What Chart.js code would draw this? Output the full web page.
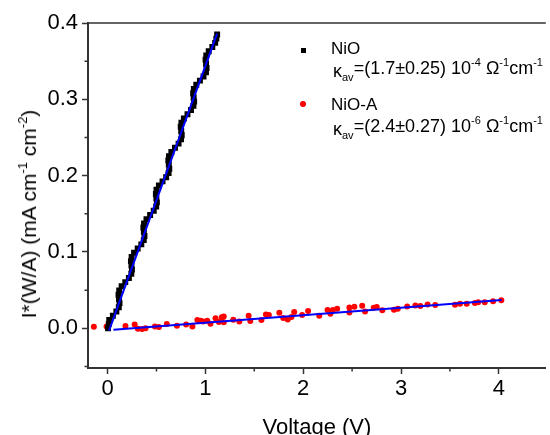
<!DOCTYPE html>
<html>
<head>
<meta charset="utf-8">
<script src="https://cdn.jsdelivr.net/npm/chart.js@4"></script>
<style>
  body { margin: 0; background: #fff; }
  #wrap { position: relative; width: 550px; height: 435px; overflow: hidden; }
  .txt { position: absolute; font: 17px/17px "Liberation Sans", Arial, sans-serif; color: #000; white-space: nowrap; }
  .kline { font-size: 18px; }
  .sup { font-size: 11px; position: relative; top: -8px; }
  .sub { font-size: 11px; position: relative; top: 7px; }
  .kap { position: relative; top: 3px; }
  .ytitle { position: absolute; left: 30px; top: 214px; transform: translate(-50%, -50%) rotate(-90deg);
            font: 21px/21px "Liberation Sans", Arial, sans-serif; white-space: nowrap; }
  .ytitle .sup { font-size: 13px; top: -9px; }
  .mk { position: absolute; }
</style>
</head>
<body>
<div id="wrap">
  <canvas id="c" width="550" height="435"></canvas>
  <div class="ytitle">I*(W/A) (mA cm<span class="sup">-1</span> cm<span class="sup">-2</span>)</div>
  <div class="mk" style="left:301px;top:48px;width:5px;height:5px;background:#000"></div>
  <div class="txt" style="left:331px;top:40px">NiO</div>
  <div class="txt kline" style="left:333px;top:60px"><span class="kap">κ</span><span class="sub">av</span>=(1.7±0.25) 10<span class="sup">-4</span> Ω<span class="sup">-1</span>cm<span class="sup">-1</span></div>
  <div class="mk" style="left:300px;top:101px;width:6px;height:6px;border-radius:50%;background:#f00"></div>
  <div class="txt" style="left:331px;top:96px">NiO-A</div>
  <div class="txt kline" style="left:333px;top:118px"><span class="kap">κ</span><span class="sub">av</span>=(2.4±0.27) 10<span class="sup">-6</span> Ω<span class="sup">-1</span>cm<span class="sup">-1</span></div>
</div>
<script>
// NiO (black squares)
const nioV = [0.005, 0.012, 0.017, 0.054, 0.090, 0.115, 0.122, 0.117, 0.112, 0.119,
  0.144, 0.181, 0.218, 0.243, 0.249, 0.244, 0.239, 0.246, 0.271, 0.308,
  0.345, 0.370, 0.377, 0.371, 0.366, 0.373, 0.398, 0.435, 0.472, 0.497,
  0.504, 0.499, 0.494, 0.500, 0.525, 0.562, 0.599, 0.624, 0.631, 0.626,
  0.621, 0.628, 0.652, 0.689, 0.726, 0.751, 0.758, 0.753, 0.748, 0.755,
  0.780, 0.817, 0.853, 0.878, 0.885, 0.880, 0.875, 0.882, 0.907, 0.944,
  0.981, 1.006, 1.012, 1.007, 1.002, 1.009, 1.034, 1.071, 1.100, 1.112, 1.120];
const nioI = [0, 0.0055, 0.011, 0.0165, 0.022, 0.0275, 0.033, 0.0385, 0.044, 0.0495,
  0.055, 0.0605, 0.066, 0.0715, 0.077, 0.0825, 0.088, 0.0935, 0.099, 0.1045,
  0.11, 0.1155, 0.121, 0.1265, 0.132, 0.1375, 0.143, 0.1485, 0.154, 0.1595,
  0.165, 0.1705, 0.176, 0.1815, 0.187, 0.1925, 0.198, 0.2035, 0.209, 0.2145,
  0.22, 0.2255, 0.231, 0.2365, 0.242, 0.2475, 0.253, 0.2585, 0.264, 0.2695,
  0.275, 0.2805, 0.286, 0.2915, 0.297, 0.3025, 0.308, 0.3135, 0.319, 0.3245,
  0.33, 0.3355, 0.341, 0.3465, 0.352, 0.3575, 0.363, 0.3685, 0.374, 0.3795, 0.385];

// NiO-A (red dots)
const nioaV = [-0.14, -0.01, 0.183, 0.277, 0.310, 0.353, 0.388, 0.484, 0.525, 0.606,
  0.709, 0.803, 0.867, 0.918, 0.952, 0.976, 1.019, 1.052, 1.104, 1.138,
  1.168, 1.188, 1.188, 1.285, 1.347, 1.442, 1.459, 1.573, 1.619, 1.649,
  1.756, 1.796, 1.842, 1.880, 1.908, 1.989, 2.050, 2.164, 2.249, 2.278,
  2.303, 2.347, 2.472, 2.472, 2.523, 2.603, 2.632, 2.721, 2.752, 2.809,
  2.928, 2.967, 3.063, 3.147, 3.198, 3.271, 3.350, 3.552, 3.603, 3.671,
  3.755, 3.789, 3.856, 3.941, 4.025];
const nioaI = [0.002, 0.0025, 0.003, 0.005, -0.0005, -0.001, 0.000, 0.0025, 0.0016, 0.0055,
  0.0034, 0.005, 0.0025, 0.011, 0.010, 0.009, 0.010, 0.006, 0.0132, 0.0084,
  0.0145, 0.0156, 0.008, 0.0113, 0.009, 0.0163, 0.0097, 0.011, 0.018, 0.0176,
  0.0204, 0.0136, 0.0117, 0.0147, 0.0215, 0.0176, 0.0228, 0.0166, 0.0241, 0.0191,
  0.0241, 0.0257, 0.0274, 0.0206, 0.0284, 0.0297, 0.0219, 0.027, 0.0278, 0.0235,
  0.0244, 0.0257, 0.0287, 0.030, 0.0291, 0.0311, 0.0307, 0.031, 0.0322, 0.0322,
  0.033, 0.034, 0.0343, 0.0356, 0.0366];

// linear fits
const fitNioV = [0.015, 1.12];
const fitNioI = [-0.003, 0.386];
const fitNioaV = [0.06, 4.03];
const fitNioaI = [-0.002, 0.037];

const xTicks = [0, 1, 2, 3, 4];
const xMinor = [0.5, 1.5, 2.5, 3.5];
const yTicks = [0, 0.1, 0.2, 0.3, 0.4];
const yMinor = [-0.05, 0.05, 0.15, 0.25, 0.35];

const pts = (xs, ys) => xs.map((v, i) => ({ x: v, y: ys[i] }));
const AX = '#333';
const FONT = { family: '"Liberation Sans", Arial, sans-serif', size: 22 };

// 위쪽 테두리 + 보조 눈금
const frame = {
  id: 'frame',
  afterDraw(chart) {
    const { ctx, chartArea: a, scales: { x, y } } = chart;
    ctx.save();
    ctx.strokeStyle = AX;
    ctx.lineWidth = 1.5;
    ctx.beginPath();
    ctx.moveTo(a.left - 1, a.top);
    ctx.lineTo(a.right, a.top);
    xMinor.forEach((v) => { const p = x.getPixelForValue(v); ctx.moveTo(p, a.bottom); ctx.lineTo(p, a.bottom + 3.5); });
    yMinor.forEach((v) => { const p = y.getPixelForValue(v); ctx.moveTo(a.left, p); ctx.lineTo(a.left - 3.5, p); });
    ctx.stroke();
    ctx.restore();
  },
};

new Chart(document.getElementById('c'), {
  type: 'scatter',
  data: {
    datasets: [
      { data: pts(fitNioV, fitNioI), showLine: true, borderColor: '#0000ff', borderWidth: 2, pointRadius: 0 },
      { data: pts(fitNioaV, fitNioaI), showLine: true, borderColor: '#0000ff', borderWidth: 2, pointRadius: 0 },
      { label: 'NiO', data: pts(nioV, nioI), pointStyle: 'rect', pointRadius: 4.2, borderWidth: 0, backgroundColor: '#000' },
      { label: 'NiO-A', data: pts(nioaV, nioaI), pointRadius: 3, borderWidth: 0, backgroundColor: '#ff0000' },
    ],
  },
  options: {
    responsive: false,
    animation: false,
    layout: { padding: { top: 23, right: 0, left: 0, bottom: 0 } },
    plugins: { legend: { display: false }, tooltip: { enabled: false } },
    scales: {
      x: {
        type: 'linear', min: -0.2, max: 4.48,
        afterBuildTicks: (s) => { s.ticks = xTicks.map((v) => ({ value: v })); },
        afterFit: (s) => { s.height = 67; },
        border: { display: true, color: AX, width: 2 },
        grid: { drawOnChartArea: false, drawTicks: true, tickLength: 6, tickColor: AX, tickWidth: 1.5 },
        ticks: { color: '#000', font: FONT, padding: 2, maxRotation: 0, callback: (v) => String(v) },
        title: { display: true, text: 'Voltage (V)', color: '#000', font: FONT, padding: { top: 0, bottom: -6 } },
      },
      y: {
        type: 'linear', min: -0.052, max: 0.4,
        afterBuildTicks: (s) => { s.ticks = yTicks.map((v) => ({ value: v })); },
        afterFit: (s) => { s.width = 88; },
        border: { display: true, color: AX, width: 2 },
        grid: { drawOnChartArea: false, drawTicks: true, tickLength: 6, tickColor: AX, tickWidth: 1.5 },
        ticks: { color: '#000', font: FONT, padding: 4, callback: (v) => v.toFixed(1) },
      },
    },
  },
  plugins: [frame],
});
</script>
</body>
</html>
